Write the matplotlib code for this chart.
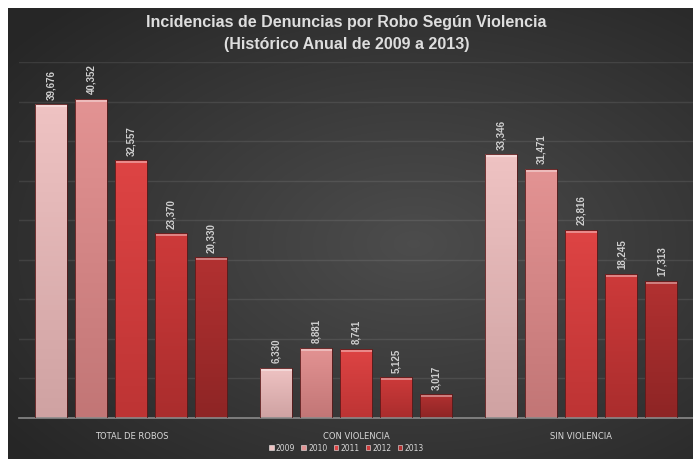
import numpy as np
import matplotlib
matplotlib.use('Agg')
import matplotlib.pyplot as plt
from matplotlib.colors import LinearSegmentedColormap
from matplotlib.patches import Rectangle

categories = ['TOTAL DE ROBOS', 'CON VIOLENCIA', 'SIN VIOLENCIA']
years = ['2009', '2010', '2011', '2012', '2013']
v2009 = [39676, 6330, 33346]
v2010 = [40352, 8881, 31471]
v2011 = [32557, 8741, 23816]
v2012 = [23370, 5125, 18245]
v2013 = [20330, 3017, 17313]
series = [v2009, v2010, v2011, v2012, v2013]

top_cols = ['#efc3c3', '#e39393', '#de4444', '#cd3a3a', '#b23131']
bot_cols = ['#cfa2a2', '#c27676', '#bd3434', '#aa2d2d', '#8e2525']

W, H = 693, 460
fig = plt.figure(figsize=(W / 100, H / 100), dpi=100, facecolor='white')

# background gradient panel
bg = fig.add_axes([0, 0, 1, 1], zorder=0)
bg.set_xlim(0, W)
bg.set_ylim(H, 0)
bg.axis('off')
yy, xx = np.mgrid[0:H, 0:W]
r = np.sqrt(((xx - 410) / 520.0) ** 2 + ((yy - 240) / 330.0) ** 2)
r = np.clip(r, 0, 1)
val = 0.30 - 0.15 * r
img = np.dstack([val, val, val])
bg.imshow(img, extent=(8, W, H, 9), aspect='auto', interpolation='bilinear')

ax = fig.add_axes([19 / W, 1 - 419 / H, 675 / W, (419 - 63) / H], zorder=1)
ax.patch.set_alpha(0)
x = np.arange(len(categories))
step = 40 / 225
width = 32 / 225
for i, (vals, tc, bc) in enumerate(zip(series, top_cols, bot_cols)):
    off = (i - 2) * step
    bars = ax.bar(x + off, vals, width=width, color='none', edgecolor='#5a1a1a',
                  linewidth=0.6, zorder=3)
    cmap = LinearSegmentedColormap.from_list('g%d' % i, [bc, tc])
    for b, v in zip(bars, vals):
        x0 = b.get_x()
        im = ax.imshow(np.linspace(0, 1, 64).reshape(-1, 1), cmap=cmap,
                       extent=(x0, x0 + width, 0, v), origin='lower',
                       aspect='auto', zorder=2)
        im.set_clip_path(b)
        ax.hlines(v - 250, x0 + 0.004, x0 + width - 0.004, color='white',
                  alpha=0.45, linewidth=1.2, zorder=4)
        ax.annotate(f'{v:,}', (x0 + width / 2, v), xytext=(0, 4),
                    textcoords='offset points', rotation=90, ha='center',
                    va='bottom', fontsize=7, fontweight='bold', color='#cfcfcf',
                    family='Liberation Sans')

ax.set_xlim(-0.5, 2.5)
ax.set_ylim(0, 45000)
ax.set_yticks(np.arange(5000, 45001, 5000))
ax.yaxis.grid(True, color='white', alpha=0.09, linewidth=1.0)
ax.set_axisbelow(True)
ax.tick_params(left=False, labelleft=False, bottom=False)
for s in ['top', 'right', 'left']:
    ax.spines[s].set_visible(False)
ax.spines['bottom'].set_color('#8a8a8a')
ax.spines['bottom'].set_linewidth(1.2)
ax.set_xticks(x)
ax.set_xticklabels(categories, fontsize=6, color='#d8d8d8', family='Liberation Sans Narrow')
ax.tick_params(axis='x', pad=6)

fig.text(0.5, 1 - 22 / H, 'Incidencias de Denuncias por Robo Según Violencia',
         ha='center', va='center', fontsize=11.5, fontweight='bold', color='#dedede',
         family='Liberation Sans')
fig.text(0.5, 1 - 44 / H, '(Histórico Anual de 2009 a 2013)',
         ha='center', va='center', fontsize=11.5, fontweight='bold', color='#dedede',
         family='Liberation Sans')

handles = [Rectangle((0, 0), 1, 1, facecolor=tc, edgecolor='#eeeeee', linewidth=0.4)
           for tc in top_cols]
leg = fig.legend(handles, years, loc='center', bbox_to_anchor=(0.5, 1 - 449 / H),
                 ncol=5, frameon=False, fontsize=5.5, handlelength=0.6,
                 handleheight=0.6, handletextpad=0.3, columnspacing=0.8,
                 labelcolor='#d8d8d8')

fig.savefig('out.png', dpi=100, facecolor='white')
